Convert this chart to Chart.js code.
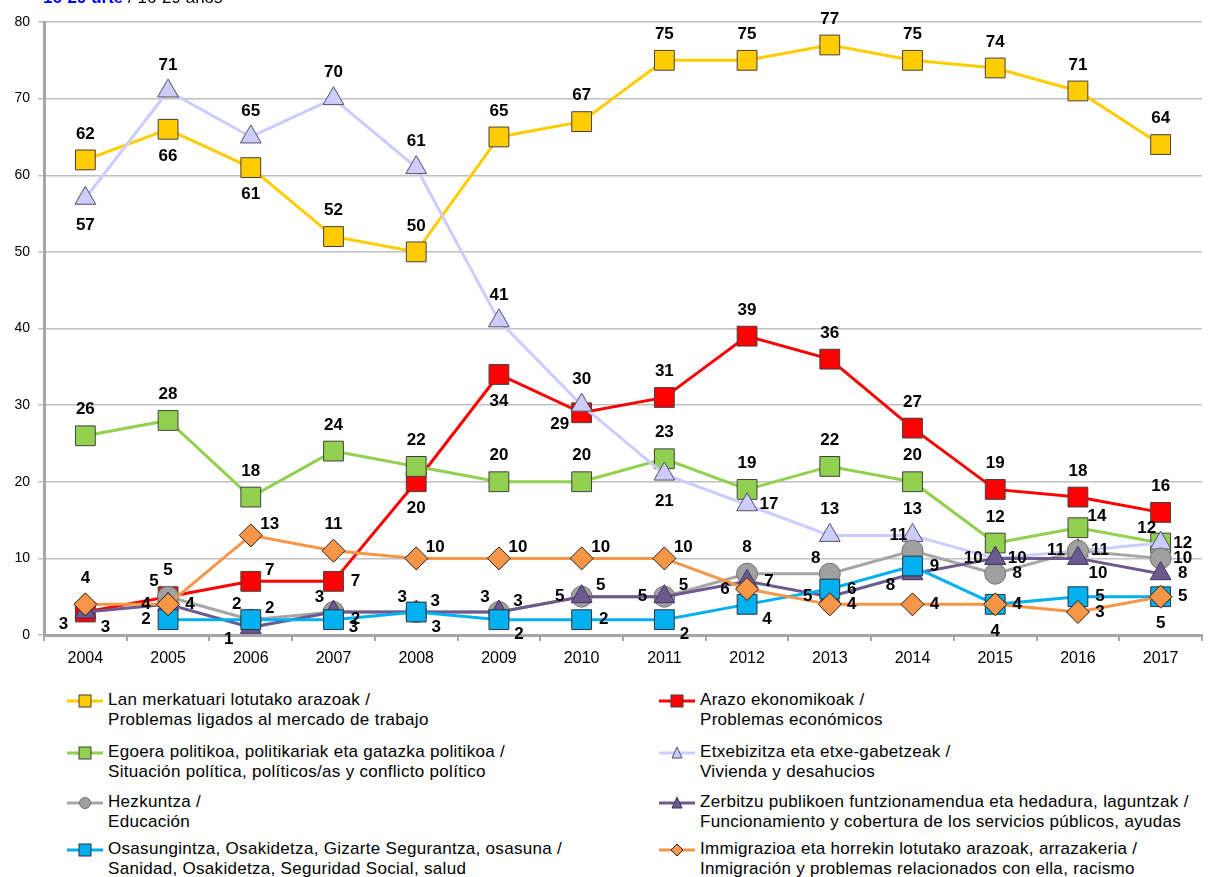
<!DOCTYPE html>
<html><head><meta charset="utf-8">
<script src="https://cdn.jsdelivr.net/npm/chart.js@4/dist/chart.umd.min.js"></script>
<style>
body{margin:0;background:#fff;width:1217px;height:877px;overflow:hidden;position:relative;font-family:"Liberation Sans",Arial,sans-serif;}
#c{position:absolute;left:0;top:0;}
.leg{position:absolute;font-size:17px;line-height:20px;letter-spacing:0.3px;color:#000;white-space:nowrap;}
.leg svg{position:absolute;left:-41px;top:1px;}
</style></head>
<body>
<canvas id="c" width="1217" height="680"></canvas>
<div id="legend"></div>
<script>
// ---- data ----
const years = ['2004','2005','2006','2007','2008','2009','2010','2011','2012','2013','2014','2015','2016','2017'];
const yTicks = [0,10,20,30,40,50,60,70,80];
const lanMerkatua   = [62,66,61,52,50,65,67,75,75,77,75,74,71,64];
const arazoEkonom   = [3,5,7,7,20,34,29,31,39,36,27,19,18,16];
const egoeraPolitik = [26,28,18,24,22,20,20,23,19,22,20,12,14,12];
const etxebizitza   = [57,71,65,70,61,41,30,21,17,13,13,10,11,12];
const hezkuntza     = [null,5,2,3,3,3,5,5,8,8,11,8,11,10];
const zerbitzuak    = [3,4,1,3,3,3,5,5,7,5,8,10,10,8];
const osasungintza  = [null,2,2,2,3,2,2,2,4,6,9,4,5,5];
const immigrazioa   = [4,4,13,11,10,10,10,10,6,4,4,4,3,5];
const seriesNames = [
  ['Lan merkatuari lotutako arazoak /','Problemas ligados al mercado de trabajo'],
  ['Arazo ekonomikoak /','Problemas económicos'],
  ['Egoera politikoa, politikariak eta gatazka politikoa /','Situación política, políticos/as y conflicto político'],
  ['Etxebizitza eta etxe-gabetzeak /','Vivienda y desahucios'],
  ['Hezkuntza /','Educación'],
  ['Zerbitzu publikoen funtzionamendua eta hedadura, laguntzak /','Funcionamiento y cobertura de los servicios públicos, ayudas'],
  ['Osasungintza, Osakidetza, Gizarte Segurantza, osasuna /','Sanidad, Osakidetza, Seguridad Social, salud'],
  ['Immigrazioa eta horrekin lotutako arazoak, arrazakeria /','Inmigración y problemas relacionados con ella, racismo']
];

// ---- label placement (style) ----
const OFF = {a:[0,-26], b:[0,27], l:[-22,0], r:[22,0], al:[-14,-15], ar:[19,-11], bl:[-22,12], br:[20,15]};
const posYellow = ['a','b','b','a','a','a','a','a','a','a','a','a','a','a'];
const posRed    = ['bl','a','ar','r','b','b','bl','a','a','a','a','a','a','a'];
const posGreen  = ['a','a','a','a','a','a','a','a','a','a','a','a','ar','al'];
const posLav    = ['b','a','a','a','a','a','a','b','r','a','a','r','r','r'];
const posGray   = ['a','al','al','al','al','al','l','l','a','al','al','r','l','r'];
const posPurple = ['br','r','bl','br','br','ar','ar','ar','r','l','bl','l','br','r'];
const posBlue   = ['r','l','ar','r','ar','br','r','br','br','r','r','b','r','b'];
const posOrange = ['a','l','ar','a','ar','ar','ar','ar','l','r','r','r','r','r'];

const styles = [
  {color:'#FFCC00', fill:'#FFCC00', border:'#404040', pt:'rect', r:14, data:lanMerkatua, pos:posYellow},
  {color:'#FF0000', fill:'#FF0000', border:'#404040', pt:'rect', r:14, data:arazoEkonom, pos:posRed},
  {color:'#92D050', fill:'#92D050', border:'#404040', pt:'rect', r:14, data:egoeraPolitik, pos:posGreen},
  {color:'#CCCCFF', fill:'#CCCCFF', border:'#505060', pt:'triangle', r:12, data:etxebizitza, pos:posLav},
  {color:'#A6A6A6', fill:'#A0A0A0', border:'#707070', pt:'circle', r:10.5, data:hezkuntza, pos:posGray},
  {color:'#6B5A8E', fill:'#6B5A8E', border:'#403060', pt:'triangle', r:12, data:zerbitzuak, pos:posPurple},
  {color:'#00B0F0', fill:'#00B0F0', border:'#303030', pt:'rect', r:14, data:osasungintza, pos:posBlue},
  {color:'#F79646', fill:'#F79646', border:'#202020', pt:'rectRot', r:11.5, data:immigrazioa, pos:posOrange}
];

const datasets = styles.map((s,i)=>({
  label: seriesNames[i].join(' '),
  data: s.data,
  borderColor: s.color,
  borderWidth: 3,
  backgroundColor: s.fill,
  pointBackgroundColor: s.fill,
  pointBorderColor: s.border,
  pointBorderWidth: 1,
  pointStyle: s.pt,
  pointRadius: s.r,
  pointHoverRadius: s.r,
  tension: 0,
  spanGaps: false,
  order: 7 - i,
  labelPos: s.pos
}));

const labelPlugin = {
  id:'vlabels',
  afterDatasetsDraw(chart){
    const ctx = chart.ctx;
    ctx.save();
    ctx.font = 'bold 17px "Liberation Sans", Arial, sans-serif';
    ctx.fillStyle = '#000';
    ctx.textAlign = 'center';
    ctx.textBaseline = 'middle';
    chart.data.datasets.forEach((ds,i)=>{
      const meta = chart.getDatasetMeta(i);
      meta.data.forEach((pt,j)=>{
        const v = ds.data[j];
        if (v === null || v === undefined) return;
        const o = OFF[ds.labelPos[j]];
        ctx.fillText(String(v), pt.x + o[0], pt.y + o[1]);
      });
    });
    ctx.restore();
  }
};

const titlePlugin = {
  id:'ttl',
  afterDraw(chart){
    const ctx = chart.ctx;
    ctx.save();
    ctx.font = 'bold 17px "Liberation Sans", Arial, sans-serif';
    ctx.textBaseline = 'alphabetic';
    ctx.textAlign = 'left';
    const t1 = '16-29 urte', t2 = ' / 16-29 años';
    ctx.fillStyle = '#0000FF';
    ctx.fillText(t1, 43, 3);
    const w = ctx.measureText(t1).width;
    ctx.font = '17px "Liberation Sans", Arial, sans-serif';
    ctx.fillStyle = '#000';
    ctx.fillText(t2, 43 + w, 3);
    ctx.restore();
  }
};

new Chart(document.getElementById('c'), {
  type:'line',
  data:{labels: years, datasets},
  options:{
    responsive:false,
    animation:false,
    layout:{padding:{top:22, right:0, left:0, bottom:0}},
    plugins:{legend:{display:false}, tooltip:{enabled:false}},
    scales:{
      x:{
        offset:true,
        grid:{offset:true, drawOnChartArea:false, drawTicks:true, tickLength:6, color:'#A6A6A6', lineWidth:2},
        border:{display:true, color:'#A6A6A6', width:3},
        ticks:{color:'#000', font:{size:16, family:'"Liberation Sans", Arial, sans-serif'}, padding:8, maxRotation:0, autoSkip:false},
        afterFit(s){ s.height = 45; }
      },
      y:{
        min:0, max:80,
        afterBuildTicks(s){ s.ticks = yTicks.map(v=>({value:v})); },
        grid:{color:'#C0C0C0', lineWidth:1.5, tickLength:6, drawTicks:true},
        border:{display:true, color:'#A6A6A6', width:3},
        ticks:{color:'#000', font:{size:14, family:'"Liberation Sans", Arial, sans-serif'}, padding:8},
        afterFit(s){ s.width = 44; }
      }
    }
  },
  plugins:[labelPlugin, titlePlugin]
});

// ---- legend (HTML) ----
const legPos = [[108,690],[700,690],[108,742],[700,742],[108,792],[700,792],[108,839],[700,839]];
const leg = document.getElementById('legend');
styles.forEach((s,i)=>{
  const d = document.createElement('div');
  d.className = 'leg';
  d.style.left = legPos[i][0] + 'px';
  d.style.top = legPos[i][1] + 'px';
  let mk = '';
  if (s.pt === 'rect') mk = `<rect x="12" y="4" width="12" height="12" fill="${s.fill}" stroke="${s.border}" stroke-width="1"/>`;
  else if (s.pt === 'triangle') mk = `<polygon points="18,4 23,15 13,15" fill="${s.fill}" stroke="${s.border}" stroke-width="1"/>`;
  else if (s.pt === 'circle') mk = `<circle cx="18" cy="10" r="5.5" fill="${s.fill}" stroke="${s.border}" stroke-width="1"/>`;
  else mk = `<polygon points="18,4 24,10 18,16 12,10" fill="${s.fill}" stroke="${s.border}" stroke-width="1"/>`;
  d.innerHTML = `<svg width="36" height="20"><line x1="0" y1="10" x2="36" y2="10" stroke="${s.color}" stroke-width="3"/>${mk}</svg>${seriesNames[i][0]}<br>${seriesNames[i][1]}`;
  leg.appendChild(d);
});
</script>
</body></html>
